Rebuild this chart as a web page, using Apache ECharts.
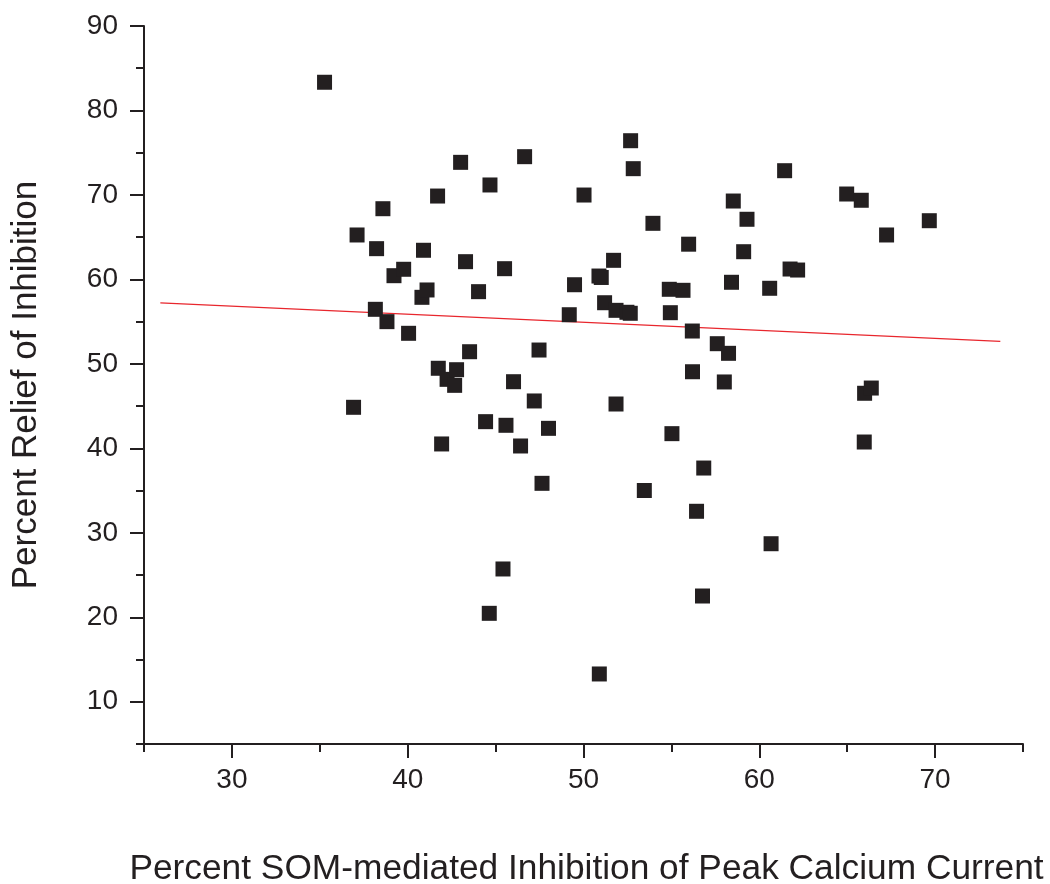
<!DOCTYPE html>
<html>
<head>
<meta charset="utf-8">
<script src="https://cdn.jsdelivr.net/npm/echarts@6/dist/echarts.min.js"></script>
<style>
html,body{margin:0;padding:0;background:#fff;}
#chart{width:1050px;height:884px;}
</style>
</head>
<body>
<div id="chart"></div>
<script>
// Percent SOM-mediated inhibition (x) values
const inhibitionX = [35.27,36.92,37.12,38.23,38.59,38.16,38.82,39.22,39.77,40.05,40.81,41.10,40.90,41.70,41.74,41.93,42.24,42.67,42.78,43.01,43.29,43.52,44.03,44.43,44.68,44.64,45.42,45.51,45.59,46.02,46.42,46.65,47.20,47.47,47.64,48.01,49.19,49.49,50.03,50.88,51.01,50.90,51.20,51.71,51.85,51.85,52.47,52.66,52.68,52.83,53.46,53.95,54.88,54.94,55.03,55.66,55.98,56.19,56.20,56.43,56.77,56.84,57.61,58.01,58.25,58.42,58.52,59.11,59.30,60.59,60.67,61.44,61.75,62.18,64.97,65.80,65.99,66.37,65.97,67.24,69.67];
// Percent relief of inhibition (y) values
const reliefY = [83.34,44.86,65.26,63.64,68.37,56.46,55.00,60.44,61.20,53.62,57.88,58.75,63.45,69.87,49.48,40.52,48.17,47.46,49.31,73.86,62.10,51.44,58.55,43.16,71.18,20.47,25.72,61.27,42.73,47.89,40.28,74.53,45.61,51.64,35.86,42.37,55.82,59.37,69.99,60.40,60.23,13.29,57.24,62.26,56.34,45.25,56.11,55.99,76.42,73.11,35.01,66.64,58.83,56.06,41.74,58.71,64.17,53.89,49.07,32.55,22.52,37.67,52.39,47.86,51.25,59.66,69.28,63.28,67.12,58.95,28.71,72.87,61.23,61.11,70.11,69.37,46.52,47.14,40.75,65.26,66.95];
// Fitted line endpoints
const fitX = [25.93, 73.71];
const fitY = [57.23, 52.67];
// Axis ticks
const xTicks = [30,40,50,60,70];
const xMinorTicks = [25,35,45,55,65,75];
const yTicks = [10,20,30,40,50,60,70,80,90];
const yMinorTicks = [5,15,25,35,45,55,65,75,85];
const xTitle = 'Percent SOM-mediated Inhibition of Peak Calcium Current';
const yTitle = 'Percent Relief of Inhibition';

const ink = '#231f20';
const font = '"Liberation Sans", Arial, Helvetica, sans-serif';

const points = inhibitionX.map((x, i) => [x, reliefY[i]]);
const fitLine = fitX.map((x, i) => [x, fitY[i]]);

const chart = echarts.init(document.getElementById('chart'), null, {renderer: 'canvas'});
chart.setOption({
  animation: false,
  backgroundColor: '#fff',
  grid: {left: 144, right: 27, top: 26, bottom: 140, containLabel: false, outerBoundsMode: 'none'},
  xAxis: [
    {
      type: 'value', min: 25, max: 75, interval: 5,
      position: 'bottom',
      name: xTitle, nameLocation: 'middle', nameGap: 108,
      nameTextStyle: {fontFamily: font, fontSize: 35.3, color: ink, padding: [0, 0, 0, 6]},
      axisLine: {show: true, onZero: false, lineStyle: {color: ink, width: 2}},
      axisTick: {show: true, customValues: xTicks, length: 14, lineStyle: {color: ink, width: 2}},
      axisLabel: {show: true, customValues: xTicks, margin: 22, fontFamily: font, fontSize: 28, color: ink},
      splitLine: {show: false}
    },
    {
      type: 'value', min: 25, max: 75, interval: 5,
      position: 'bottom',
      axisLine: {show: false, onZero: false},
      axisTick: {show: true, customValues: xMinorTicks, length: 8, lineStyle: {color: ink, width: 2}},
      axisLabel: {show: false},
      splitLine: {show: false}
    }
  ],
  yAxis: [
    {
      type: 'value', min: 5, max: 90, interval: 5,
      position: 'left',
      name: yTitle, nameLocation: 'middle', nameGap: 100, nameRotate: 90,
      nameTextStyle: {fontFamily: font, fontSize: 35, color: ink},
      axisLine: {show: true, onZero: false, lineStyle: {color: ink, width: 2}},
      axisTick: {show: true, customValues: yTicks, length: 14, lineStyle: {color: ink, width: 2}},
      axisLabel: {show: true, customValues: yTicks, margin: 26, fontFamily: font, fontSize: 28, color: ink},
      splitLine: {show: false}
    },
    {
      type: 'value', min: 5, max: 90, interval: 5,
      position: 'left',
      axisLine: {show: false, onZero: false},
      axisTick: {show: true, customValues: yMinorTicks, length: 8, lineStyle: {color: ink, width: 2}},
      axisLabel: {show: false},
      splitLine: {show: false}
    }
  ],
  series: [
    {
      type: 'line',
      data: fitLine,
      xAxisIndex: 0, yAxisIndex: 0,
      symbol: 'none',
      lineStyle: {color: '#e8262d', width: 1.2},
      z: 3
    },
    {
      type: 'scatter',
      data: points,
      xAxisIndex: 0, yAxisIndex: 0,
      symbol: 'rect',
      symbolSize: 15,
      itemStyle: {color: ink, opacity: 1},
      z: 4
    }
  ]
});
</script>
</body>
</html>
